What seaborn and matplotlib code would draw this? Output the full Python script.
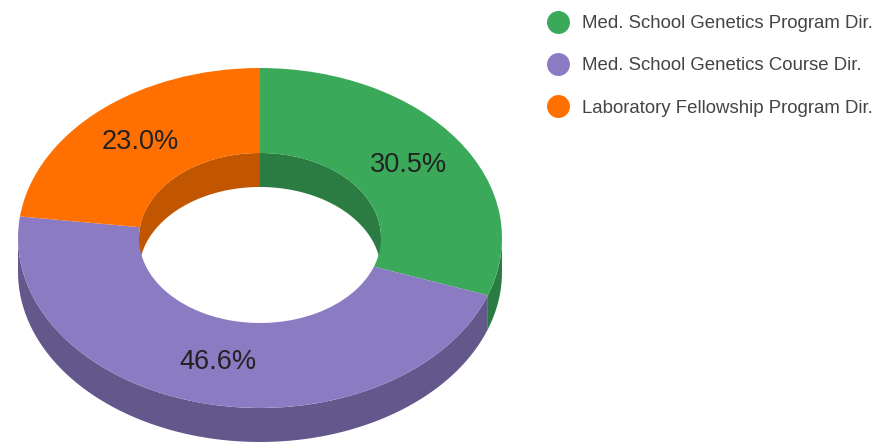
import numpy as np
import matplotlib
matplotlib.use("Agg")
import matplotlib.pyplot as plt
from matplotlib.lines import Line2D
import seaborn as sns

# ---- data ----
categories = ["Med. School Genetics Program Dir.",
              "Med. School Genetics Course Dir.",
              "Laboratory Fellowship Program Dir."]
values = [30.5, 46.6, 23.0]
top_colors = ["#3aa95a", "#8b7bc2", "#ff7000"]
side_colors = ["#2a7c42", "#63578c", "#c25600"]

sns.set_theme(style="white")
plt.rcParams['font.family'] = ['Liberation Sans', 'DejaVu Sans']

W, H = 879, 442
fig = plt.figure(figsize=(W / 100, H / 100), dpi=100)
ax = fig.add_axes([0, 0, 1, 1])

# geometry (pixels -> unit-ellipse data coords)
cx, cy, rx, ry = 260, 238, 242, 170
hole = 0.5
depth = 0.2

# angles clockwise from 12 o'clock
vals = np.array(values, dtype=float)
edges = np.concatenate([[0], np.cumsum(vals) / vals.sum() * 360.0])


def ring_side(r, a0, a1, color):
    t = np.radians(np.linspace(a0, a1, 80))
    x = r * np.sin(t)
    y = r * np.cos(t)
    xs = np.concatenate([x, x[::-1]])
    ys = np.concatenate([y, (y - depth)[::-1]])
    ax.fill(xs, ys, color=color, lw=0, zorder=1)


# outer walls: visible front half (90..270)
for i in range(len(vals)):
    a0, a1 = max(edges[i], 90), min(edges[i + 1], 270)
    if a1 > a0:
        ring_side(1.0, a0, a1, side_colors[i])

# inner walls: visible back half (270..450)
for i in range(len(vals)):
    for lo, hi in [(0, 90), (270, 360)]:
        a0, a1 = max(edges[i], lo), min(edges[i + 1], hi)
        if a1 > a0:
            ring_side(hole, a0, a1, side_colors[i])

# top faces
wedges, texts, autotexts = ax.pie(
    vals, colors=top_colors, startangle=90, counterclock=False,
    radius=1.0, center=(0, 0), autopct='%.1f%%', pctdistance=0.75,
    wedgeprops=dict(width=1 - hole, linewidth=0),
    textprops=dict(fontsize=19.5, color="#222222"))
for w in wedges:
    w.set_zorder(2)
for t in autotexts:
    t.set_zorder(3)

ax.set_xlim(-cx / rx, (W - cx) / rx)
ax.set_ylim(-(H - cy) / ry, cy / ry)
ax.set_aspect('auto')
ax.axis('off')

handles = [Line2D([], [], marker='o', ls='', markersize=15.5,
                  markerfacecolor=c, markeredgecolor=c) for c in top_colors]
leg = fig.legend(handles, categories, loc='upper left',
                 bbox_to_anchor=(549 / W, 1 - 15 / H),
                 frameon=False, fontsize=13.4, handlelength=1.0,
                 handletextpad=0.78, labelspacing=1.36, borderpad=0,
                 borderaxespad=0)
for t in leg.get_texts():
    t.set_color("#444444")

fig.savefig("out.png", dpi=100, facecolor="white")
